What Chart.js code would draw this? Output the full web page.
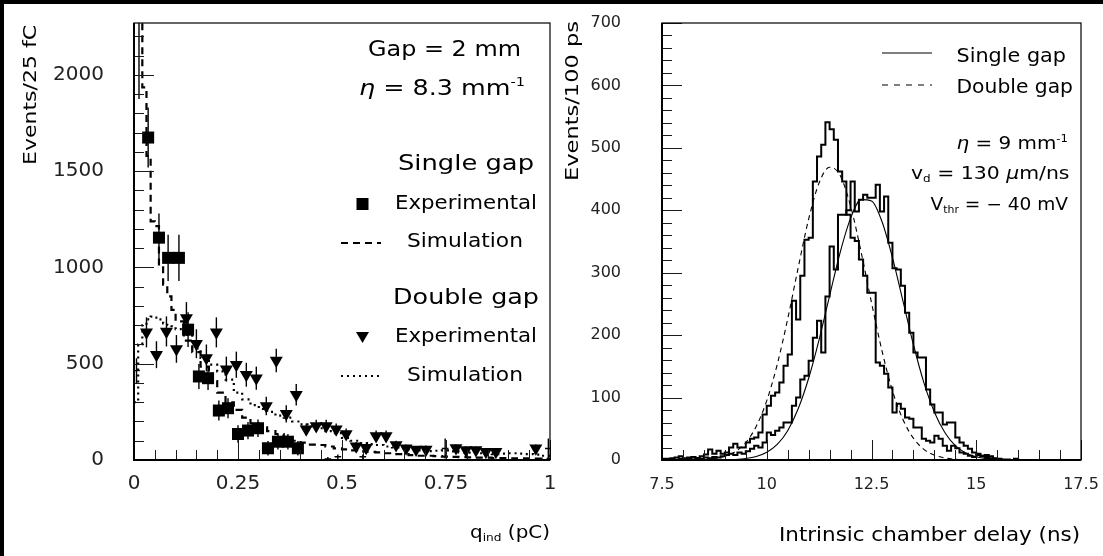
<!DOCTYPE html>
<html>
<head>
<meta charset="UTF-8">
<title>Induced charge and intrinsic delay</title>
<script src="https://cdn.jsdelivr.net/npm/chart.js"></script>
<style>
  html, body { margin: 0; padding: 0; background: #fff; }
  #page { position: relative; width: 1103px; height: 556px; overflow: hidden; background: #fff; }
  canvas { position: absolute; top: 0; }
  #chargeChart { left: 0; }
  #delayChart { left: 560px; }
</style>
</head>
<body>
<div id="page">
  <canvas id="chargeChart" width="560" height="556"></canvas>
  <canvas id="delayChart" width="543" height="556"></canvas>
</div>

<script>
// ---------- left panel: induced charge ----------
const chargeTicks = [0, 0.25, 0.5, 0.75, 1];
const chargeCountTicks = [0, 500, 1000, 1500, 2000];

const singleExpCharge = [0.012, 0.034, 0.060, 0.082, 0.108, 0.130, 0.156, 0.178, 0.204, 0.226, 0.250, 0.274, 0.298, 0.322, 0.346, 0.370, 0.394];
const singleExpCounts = [2330, 1675, 1155, 1050, 1050, 677, 434, 425, 257, 269, 135, 153, 165, 61, 95, 95, 61];
const singleExpErrors = [455, 156, 125, 120, 120, 90, 65, 62, 52, 52, 45, 45, 45, 38, 40, 40, 38];

const doubleExpCharge = [0.030, 0.054, 0.078, 0.102, 0.126, 0.150, 0.174, 0.198, 0.222, 0.246, 0.270, 0.294, 0.318, 0.342, 0.366, 0.390, 0.414, 0.438, 0.462, 0.486, 0.510, 0.534, 0.558, 0.582, 0.606, 0.630, 0.654, 0.678, 0.702, 0.774, 0.798, 0.822, 0.846, 0.870, 0.966];
const doubleExpCounts = [663, 547, 668, 577, 738, 604, 530, 663, 472, 495, 443, 425, 281, 517, 240, 339, 160, 177, 177, 160, 135, 72, 64, 125, 125, 78, 61, 54, 55, 62, 52, 52, 43, 43, 61];
const doubleExpErrors = [78, 70, 78, 72, 82, 75, 70, 78, 65, 68, 62, 60, 48, 61, 45, 56, 30, 32, 32, 30, 28, 22, 20, 28, 28, 22, 20, 18, 20, 20, 18, 18, 16, 16, 20];

// bins that show only their error crosses
const bareCharge = [0.006, 0.466, 0.490, 0.550, 0.748, 0.996];
const bareCounts = [464, 5, 17, 17, 60, 60];
const bareErrors = [65, 10, 12, 12, 52, 52];

const chargeSimEdges = [0, 0.01, 0.02, 0.03, 0.04, 0.05, 0.06, 0.07, 0.08, 0.09, 0.10, 0.12, 0.14, 0.16, 0.18, 0.20, 0.22, 0.24, 0.26, 0.28, 0.30, 0.32, 0.34, 0.36, 0.38, 0.40, 0.42, 0.44, 0.46, 0.48, 0.50, 0.52, 0.54, 0.56, 0.58, 0.60, 0.62, 0.64, 0.66, 0.68, 0.70, 0.72, 0.74, 0.76, 0.78, 0.80, 0.82, 0.84, 0.86, 0.88, 0.90, 0.92, 0.94, 0.96, 0.98, 1.00];
const singleSimCounts = [2600, 2450, 1936, 1580, 1240, 1215, 1010, 911, 850, 780, 720, 620, 560, 485, 410, 350, 300, 260, 220, 190, 170, 150, 135, 120, 100, 90, 80, 78, 70, 60, 55, 50, 45, 42, 40, 35, 30, 30, 25, 22, 22, 20, 18, 16, 15, 14, 12, 12, 10, 10, 9, 8, 8, 7, 6];
const doubleSimCounts = [300, 600, 700, 730, 745, 740, 730, 710, 700, 695, 680, 650, 580, 530, 495, 460, 417, 350, 315, 285, 265, 250, 230, 220, 200, 185, 175, 165, 150, 140, 115, 100, 88, 82, 78, 70, 65, 60, 55, 50, 46, 48, 50, 45, 40, 38, 35, 33, 31, 33, 35, 33, 31, 28, 22];

// ---------- right panel: intrinsic chamber delay ----------
const delayTicks = [7.5, 10, 12.5, 15, 17.5];
const delayCountTicks = [0, 100, 200, 300, 400, 500, 600, 700];
const delayBinStart = 7.5;
const delayBinWidth = 0.1;

const doubleGapCounts = [
  2, 2, 3, 4, 6, 3, 4, 5, 3, 6,
  9, 17, 10, 15, 10, 12, 20, 26, 20, 20,
  28, 34, 36, 44, 73, 87, 103, 108, 124, 151,
  169, 255, 225, 295, 353, 356, 446, 486, 505, 541,
  530, 513, 462, 446, 393, 356, 351, 321, 295, 268,
  268, 156, 151, 138, 116, 76, 90, 82, 68, 66,
  52, 52, 34, 31, 28, 39, 34, 23, 15, 23,
  19, 12, 10, 7, 5, 8, 6, 8, 3, 2,
  1, 0, 0, 0, 2, 0, 0, 0, 0, 0,
  0, 0, 0, 0, 0, 0, 0, 0, 0, 0
];
const singleGapCounts = [
  0, 0, 1, 0, 2, 1, 2, 1, 3, 2,
  4, 3, 5, 4, 6, 8, 10, 8, 12, 10,
  14, 18, 23, 20, 28, 44, 40, 47, 52, 60,
  60, 87, 100, 129, 135, 159, 196, 223, 172, 262,
  342, 305, 393, 393, 400, 446, 398, 417, 425, 420,
  420, 441, 398, 422, 348, 307, 305, 279, 236, 204,
  172, 164, 164, 113, 89, 76, 76, 57, 60, 60,
  36, 28, 23, 18, 12, 10, 7, 5, 6, 3,
  2, 1, 1, 0, 0, 0, 0, 0, 0, 0,
  0, 0, 0, 0, 0, 0, 0, 0, 0, 0
];

const fitDelay = [8.5, 8.75, 9, 9.25, 9.5, 9.75, 10, 10.25, 10.5, 10.75, 11, 11.25, 11.5, 11.75, 12, 12.25, 12.5, 12.75, 13, 13.25, 13.5, 13.75, 14, 14.25, 14.5, 14.75, 15, 15.25, 15.5, 15.75];
const doubleFitCounts = [0.9, 2.4, 6, 13.5, 28, 54, 95, 153, 226, 308, 386, 444, 469, 456, 407, 334, 252, 175, 111, 65, 35, 17, 8, 3.3, 1.3, 0.5, 0.2, 0, 0, 0];
const singleFitCounts = [0, 0.1, 0.3, 0.9, 2.4, 5.7, 12.5, 25, 47, 82, 131, 193, 263, 332, 387, 417, 415, 382, 324, 255, 185, 124, 77, 44, 23, 11.4, 5.2, 2.2, 0.8, 0.3];

// ---------- helpers ----------
const FAMILY = '"DejaVu Sans", "Liberation Sans", Arial, sans-serif';
Chart.defaults.font.family = FAMILY;
Chart.defaults.color = '#000';

function points(xs, ys) {
  return xs.map((x, i) => ({ x: x, y: ys[i] }));
}
// step outline: value i spans [edge i, edge i+1]
function stepPoints(edges, counts) {
  return edges.map((e, i) => ({ x: e, y: counts[Math.min(i, counts.length - 1)] }));
}
function binEdges(start, width, n) {
  const out = [];
  for (let i = 0; i <= n; i++) out.push(+(start + i * width).toFixed(4));
  return out;
}

// text drawn from pieces, stretched to the width of the original lettering
function drawRich(ctx, parts, x, y, align, width) {
  ctx.save();
  ctx.fillStyle = '#000';
  ctx.textBaseline = 'alphabetic';
  ctx.textAlign = 'left';
  let w = 0;
  parts.forEach(p => {
    ctx.font = (p.italic ? 'italic ' : '') + p.size + 'px ' + FAMILY;
    p.w = ctx.measureText(p.text).width;
    w += p.w;
  });
  const sx = width ? width / w : 1;
  const x0 = align === 'right' ? x - w * sx : (align === 'center' ? x - w * sx / 2 : x);
  ctx.translate(x0, y);
  ctx.scale(sx, 1);
  let cx = 0;
  parts.forEach(p => {
    ctx.font = (p.italic ? 'italic ' : '') + p.size + 'px ' + FAMILY;
    ctx.fillText(p.text, cx, p.dy || 0);
    cx += p.w;
  });
  ctx.restore();
}
function drawUpText(ctx, text, size, baseX, bottomY, length) {
  ctx.save();
  ctx.translate(baseX, bottomY);
  ctx.rotate(-Math.PI / 2);
  drawRich(ctx, [{ text: text, size: size }], 0, 0, 'left', length);
  ctx.restore();
}

const errorBars = {
  id: 'errorBars',
  beforeDatasetsDraw(chart) {
    const { ctx, chartArea: a, scales: { x, y } } = chart;
    ctx.save();
    ctx.beginPath();
    ctx.rect(a.left, a.top, a.right - a.left, a.bottom - a.top);
    ctx.clip();
    ctx.strokeStyle = '#000';
    ctx.lineWidth = 1.4;
    chart.data.datasets.forEach(ds => {
      if (!ds.yErr) return;
      ds.data.forEach((p, i) => {
        const px = x.getPixelForValue(p.x);
        const e = ds.yErr[i];
        ctx.beginPath();
        ctx.moveTo(px, y.getPixelForValue(p.y - e));
        ctx.lineTo(px, y.getPixelForValue(p.y + e));
        if (ds.xErr) {
          const py = y.getPixelForValue(p.y);
          ctx.moveTo(x.getPixelForValue(p.x - ds.xErr), py);
          ctx.lineTo(x.getPixelForValue(p.x + ds.xErr), py);
        }
        ctx.stroke();
      });
    });
    ctx.restore();
  }
};

// frame with inward ticks, PAW style
const pawFrame = {
  id: 'pawFrame',
  afterDraw(chart, args, o) {
    const { ctx, chartArea: a, scales: { x, y } } = chart;
    ctx.save();
    ctx.strokeStyle = '#1a1a1a';
    ctx.lineWidth = 1;
    ctx.beginPath();
    const nx = Math.round((o.xTo - o.xFrom) / o.xMinor);
    for (let k = 0; k <= nx; k++) {
      const v = o.xFrom + k * o.xMinor;
      const major = o.xMajor.some(m => Math.abs(m - v) < 1e-6);
      const px = Math.round(x.getPixelForValue(v)) + 0.5;
      ctx.moveTo(px, a.bottom);
      ctx.lineTo(px, a.bottom - (major ? o.majorLen : o.minorLen));
    }
    const ny = Math.round((o.yTo - o.yFrom) / o.yMinor);
    for (let k = 0; k <= ny; k++) {
      const v = o.yFrom + k * o.yMinor;
      const major = o.yMajor.some(m => Math.abs(m - v) < 1e-6);
      const py = Math.round(y.getPixelForValue(v)) + 0.5;
      ctx.moveTo(a.left, py);
      ctx.lineTo(a.left + (major ? o.majorLen : o.minorLen), py);
    }
    ctx.stroke();
    ctx.strokeStyle = '#000';
    ctx.lineWidth = 1.2;
    ctx.strokeRect(a.left, a.top, a.right - a.left, a.bottom - a.top);
    ctx.lineWidth = 2;
    ctx.beginPath();
    ctx.moveTo(a.left, a.top);
    ctx.lineTo(a.left, a.bottom);
    ctx.lineTo(a.right, a.bottom);
    ctx.stroke();
    ctx.restore();
  }
};

// fixed axis boxes, no extra padding from the tick labels
function fixBox(prop, size) {
  return s => {
    s[prop] = size;
    s.paddingTop = 0; s.paddingBottom = 0; s.paddingLeft = 0; s.paddingRight = 0;
  };
}

function axisOptions(min, max, ticks, size, pad, fit) {
  return {
    type: 'linear', min: min, max: max,
    grid: { display: false, drawTicks: false },
    border: { display: false },
    afterBuildTicks: s => { s.ticks = ticks.map(v => ({ value: v })); },
    afterFit: fit,
    ticks: {
      font: { size: size }, color: '#222', padding: pad,
      maxRotation: 0, autoSkip: false,
      callback: v => String(v)
    }
  };
}

// ---------- left chart ----------
const chargeText = {
  id: 'chargeText',
  afterDraw(chart) {
    const ctx = chart.ctx;
    ctx.save();
    ctx.fillStyle = '#000';
    ctx.fillRect(0, 0, 560, 4);
    ctx.fillRect(0, 0, 4, 556);

    drawRich(ctx, [{ text: 'Gap = 2 mm', size: 21 }], 368, 56, 'left', 153);
    drawRich(ctx, [{ text: 'η', size: 21, italic: true }, { text: ' = 8.3 mm', size: 21 }, { text: '-1', size: 12, dy: -9 }], 359, 95, 'left', 166);
    drawRich(ctx, [{ text: 'Single gap', size: 21 }], 398, 170, 'left', 136);
    drawRich(ctx, [{ text: 'Experimental', size: 20 }], 395, 209, 'left', 142);
    drawRich(ctx, [{ text: 'Simulation', size: 20 }], 407, 247, 'left', 116);
    drawRich(ctx, [{ text: 'Double gap', size: 21 }], 393, 304, 'left', 146);
    drawRich(ctx, [{ text: 'Experimental', size: 20 }], 395, 342, 'left', 142);
    drawRich(ctx, [{ text: 'Simulation', size: 20 }], 407, 381, 'left', 116);

    // legend symbols
    ctx.fillRect(356.5, 198, 12, 12);
    ctx.beginPath();
    ctx.moveTo(356, 332); ctx.lineTo(369, 332); ctx.lineTo(362.5, 343); ctx.closePath();
    ctx.fill();
    ctx.strokeStyle = '#000';
    ctx.lineWidth = 2.2;
    ctx.setLineDash([7, 5]);
    ctx.beginPath(); ctx.moveTo(341, 243); ctx.lineTo(381, 243); ctx.stroke();
    ctx.setLineDash([2, 4]);
    ctx.beginPath(); ctx.moveTo(341, 376); ctx.lineTo(383, 376); ctx.stroke();
    ctx.setLineDash([]);

    drawUpText(ctx, 'Events/25 fC', 18, 35.5, 165, 140);
    drawRich(ctx, [{ text: 'q', size: 18 }, { text: 'ind', size: 11, dy: 3 }, { text: ' (pC)', size: 18 }], 550, 538, 'right', 80);
    ctx.restore();
  }
};

new Chart(document.getElementById('chargeChart'), {
  type: 'scatter',
  data: {
    datasets: [
      {
        label: 'Single gap simulation', type: 'line',
        data: stepPoints(chargeSimEdges, singleSimCounts),
        stepped: 'before', borderColor: '#000', borderWidth: 2.2, borderDash: [7, 5],
        pointRadius: 0, fill: false
      },
      {
        label: 'Double gap simulation', type: 'line',
        data: stepPoints(chargeSimEdges, doubleSimCounts),
        stepped: 'before', borderColor: '#000', borderWidth: 2.2, borderDash: [2, 4],
        pointRadius: 0, fill: false
      },
      {
        label: 'Single gap experimental',
        data: points(singleExpCharge, singleExpCounts), yErr: singleExpErrors,
        pointStyle: 'rect', pointRadius: 8.5, backgroundColor: '#000', borderColor: '#000', borderWidth: 0
      },
      {
        label: 'Double gap experimental',
        data: points(doubleExpCharge, doubleExpCounts), yErr: doubleExpErrors,
        pointStyle: 'triangle', rotation: 180, pointRadius: 7.5, backgroundColor: '#000', borderColor: '#000', borderWidth: 0
      },
      {
        label: 'Error crosses',
        data: points(bareCharge, bareCounts), yErr: bareErrors, xErr: 0.008,
        pointRadius: 0
      }
    ]
  },
  options: {
    responsive: false,
    animation: false,
    events: [],
    layout: { autoPadding: false, padding: { left: 0, top: 23, right: 10, bottom: 0 } },
    plugins: {
      legend: { display: false },
      tooltip: { enabled: false },
      pawFrame: { xFrom: 0, xTo: 1, xMinor: 0.05, xMajor: chargeTicks, yFrom: 0, yTo: 2200, yMinor: 100, yMajor: chargeCountTicks, majorLen: 20, minorLen: 10 }
    },
    scales: {
      x: axisOptions(0, 1, chargeTicks, 20, 12, fixBox('height', 96)),
      y: axisOptions(0, 2270, chargeCountTicks, 20, 30, fixBox('width', 134))
    }
  },
  plugins: [errorBars, pawFrame, chargeText]
});

// ---------- right chart ----------
const delayEdges = binEdges(delayBinStart, delayBinWidth, doubleGapCounts.length);

const delayText = {
  id: 'delayText',
  afterDraw(chart) {
    const ctx = chart.ctx;
    ctx.save();
    ctx.fillStyle = '#000';
    ctx.fillRect(0, 0, 543, 4);

    ctx.strokeStyle = '#000';
    ctx.lineWidth = 1.2;
    ctx.beginPath(); ctx.moveTo(322, 53); ctx.lineTo(372, 53); ctx.stroke();
    ctx.setLineDash([6, 6]);
    ctx.beginPath(); ctx.moveTo(322, 85); ctx.lineTo(372, 85); ctx.stroke();
    ctx.setLineDash([]);
    drawRich(ctx, [{ text: 'Single gap', size: 19 }], 396.5, 62, 'left', 109.5);
    drawRich(ctx, [{ text: 'Double gap', size: 19 }], 396.5, 92.5, 'left', 116.5);

    drawRich(ctx, [{ text: 'η', size: 17, italic: true }, { text: ' = 9 mm', size: 17 }, { text: '-1', size: 10, dy: -7 }], 508, 149, 'right', 111.5);
    drawRich(ctx, [{ text: 'v', size: 17 }, { text: 'd', size: 10, dy: 3 }, { text: ' = 130 ', size: 17 }, { text: 'μ', size: 17, italic: true }, { text: 'm/ns', size: 17 }], 509.5, 179, 'right', 158.5);
    drawRich(ctx, [{ text: 'V', size: 17 }, { text: 'thr', size: 10, dy: 3 }, { text: ' = − 40 mV', size: 17 }], 508, 210, 'right', 137.5);

    drawUpText(ctx, 'Events/100 ps', 18, 17.5, 181, 160);
    drawRich(ctx, [{ text: 'Intrinsic chamber delay (ns)', size: 19 }], 520, 541, 'right', 301);
    ctx.restore();
  }
};

new Chart(document.getElementById('delayChart'), {
  type: 'line',
  data: {
    datasets: [
      {
        label: 'Double gap', data: stepPoints(delayEdges, doubleGapCounts),
        stepped: 'before', borderColor: '#000', borderWidth: 2, pointRadius: 0, fill: false
      },
      {
        label: 'Single gap', data: stepPoints(delayEdges, singleGapCounts),
        stepped: 'before', borderColor: '#000', borderWidth: 2, pointRadius: 0, fill: false
      },
      {
        label: 'Double gap fit', data: points(fitDelay, doubleFitCounts),
        borderColor: '#000', borderWidth: 1.1, borderDash: [5, 4], pointRadius: 0,
        cubicInterpolationMode: 'monotone', fill: false
      },
      {
        label: 'Single gap fit', data: points(fitDelay, singleFitCounts),
        borderColor: '#000', borderWidth: 1.1, pointRadius: 0,
        cubicInterpolationMode: 'monotone', fill: false
      }
    ]
  },
  options: {
    responsive: false,
    animation: false,
    events: [],
    layout: { autoPadding: false, padding: { left: 0, top: 23, right: 22, bottom: 0 } },
    plugins: {
      legend: { display: false },
      tooltip: { enabled: false },
      pawFrame: { xFrom: 7.5, xTo: 17.5, xMinor: 0.5, xMajor: delayTicks, yFrom: 0, yTo: 700, yMinor: 20, yMajor: delayCountTicks, majorLen: 20, minorLen: 10 }
    },
    scales: {
      x: axisOptions(7.5, 17.5, delayTicks, 16, 15, fixBox('height', 96)),
      y: axisOptions(0, 700, delayCountTicks, 16, 41, fixBox('width', 102))
    }
  },
  plugins: [pawFrame, delayText]
});
</script>
</body>
</html>
